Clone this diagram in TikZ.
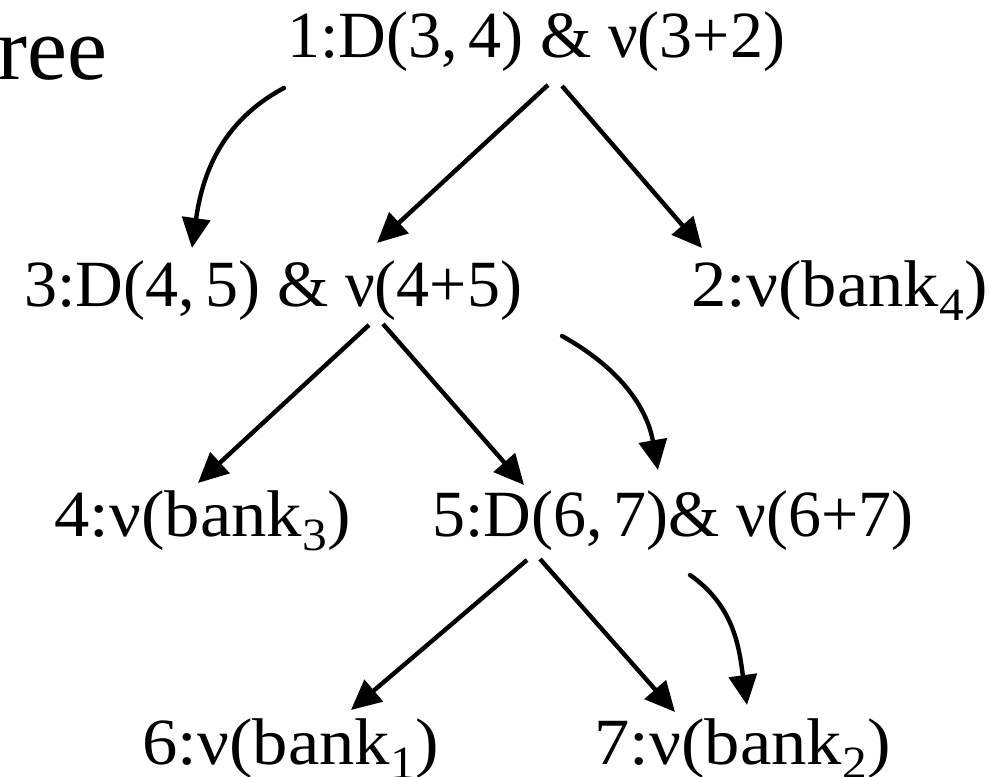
\documentclass[tikz,border=0pt]{standalone}
\usepackage{fontspec}
\setmainfont{Liberation Serif}
\usetikzlibrary{arrows.meta}

\newcommand{\wide}[1]{\scalebox{1.07}[1]{#1}}

\tikzset{
  lbl/.style={anchor=base west,inner sep=0pt,font=\fontsize{33}{40}\selectfont},
  tree/.style={line width=2.2pt,-{Triangle[length=15pt,width=14pt]}},
  jump/.style={line width=2.2pt,line cap=round,-{Triangle[length=15pt,width=14pt]}}
}

\begin{document}
\begin{tikzpicture}[x=0.5pt,y=0.5pt]
            \useasboundingbox (0,0) rectangle (990,776);

            \node[anchor=base east,inner sep=0pt,font=\fontsize{45}{54}\selectfont] (T) at (108,696) {ree};

            \node[lbl] (A) at (287,718) {1:D(3,\,4) \& ν(3+2)};
            \node[lbl] (C) at (24,469) {3:D(4,\,5) \& ν(4+5)};
            \node[lbl] (B) at (691,469) {\wide{2:ν(bank\textsubscript{4})}};
            \node[lbl] (D) at (54,239) {\wide{4:ν(bank\textsubscript{3})}};
            \node[lbl] (E) at (432,239) {5:D(6,\,7)\& ν(6+7)};
            \node[lbl] (F) at (142,11) {\wide{6:ν(bank\textsubscript{1})}};
            \node[lbl] (G) at (594,11) {\wide{7:ν(bank\textsubscript{2})}};

            \path[tree] ([shift={(261,-27)}]A.base west) edge node {} ([shift={(353,64)}]C.base west);
            \path[tree] ([shift={(275,-28)}]A.base west) edge node {} ([shift={(11,59)}]B.base west);
            \path[tree] ([shift={(345,-18)}]C.base west) edge node {} ([shift={(144,54)}]D.base west);
            \path[tree] ([shift={(359,-17)}]C.base west) edge node {} ([shift={(92,52)}]E.base west);
            \path[tree] ([shift={(95,-23)}]E.base west) edge node {} ([shift={(209,55)}]F.base west);
            \path[tree] ([shift={(108,-22)}]E.base west) edge node {} ([shift={(81,53)}]G.base west);

            % order of the walk
            \draw[jump] ([shift={(-3,-30)}]A.base west) to[out=208,in=82] ([shift={(168,59)}]C.base west);
            \draw[jump] ([shift={(538,-29)}]C.base west) to[out=331,in=100] ([shift={(226,67)}]E.base west);
            \draw[jump] ([shift={(258,-38)}]E.base west) to[out=325,in=98] ([shift={(153,60)}]G.base west);
\end{tikzpicture}
\end{document}
